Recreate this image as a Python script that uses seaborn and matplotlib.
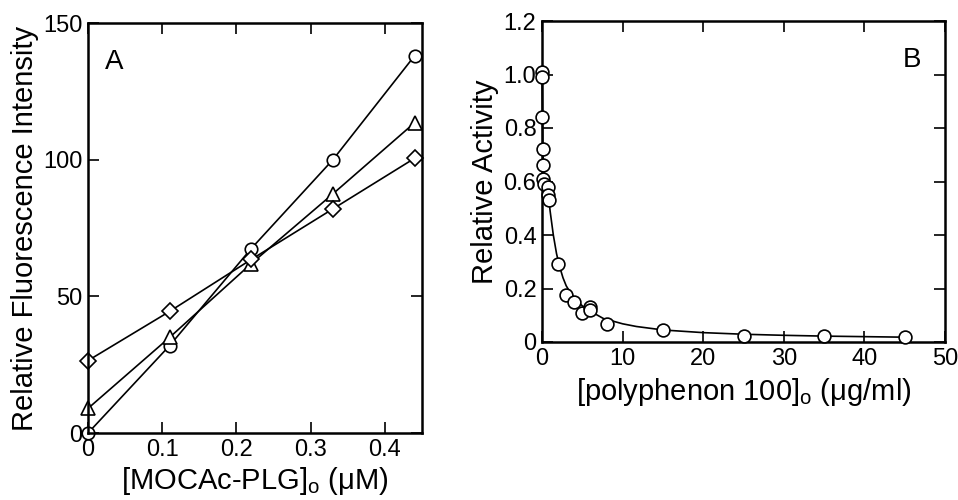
import matplotlib
matplotlib.use("Agg")
import matplotlib.pyplot as plt
import seaborn as sns

# -----------------------------
# Panel A data: fluorescence vs substrate
# -----------------------------
conc_a = [0, 0.11, 0.22, 0.33, 0.44]
circle_a = [0, 32, 67.5, 100, 138]
triangle_a = [9, 35, 62, 87.5, 113.5]
diamond_a = [26.5, 44.5, 63.5, 82, 100.5]

# -----------------------------
# Panel B data: relative activity vs polyphenon 100
# -----------------------------
dose_b = [0, 0, 0.05, 0.1, 0.1, 0.1, 0.2, 0.8, 0.8, 0.9, 2, 3, 4, 4.9, 6, 6, 8, 15, 25, 35, 45]
act_b = [1.01, 0.99, 0.84, 0.72, 0.66, 0.61, 0.59, 0.58, 0.55, 0.53, 0.29, 0.175, 0.15, 0.11,
         0.13, 0.12, 0.068, 0.043, 0.022, 0.022, 0.017]

# fitted curve
curve_x = [0, 0.05, 0.1, 0.2, 0.4, 0.8, 1.0, 1.4, 1.8, 2.2, 2.6, 3.0, 3.5, 4.0, 5.0, 6.0,
           7.6, 10, 11.7, 15, 20, 25, 30, 35, 40, 45]
curve_y = [1.0, 0.85, 0.72, 0.64, 0.60, 0.55, 0.49, 0.40, 0.33, 0.28, 0.24, 0.21, 0.185, 0.165,
           0.135, 0.115, 0.088, 0.068, 0.058, 0.045, 0.035, 0.029, 0.025, 0.022, 0.020, 0.018]

sns.set_style("ticks")
plt.rcParams['font.family'] = ['Liberation Sans', 'DejaVu Sans']
plt.rcParams['mathtext.fontset'] = 'custom'
plt.rcParams['mathtext.rm'] = 'Liberation Sans'
plt.rcParams['text.color'] = 'black'
plt.rcParams['axes.labelcolor'] = 'black'

fig = plt.figure(figsize=(9.58, 5.0), dpi=100)
ax_a = fig.add_axes([0.0919, 0.134, 0.3486, 0.82])
ax_b = fig.add_axes([0.5658, 0.316, 0.4207, 0.642])

mk = dict(color='black', markerfacecolor='white', markeredgecolor='black',
          markeredgewidth=1.2, linewidth=1.2, clip_on=False)

# -----------------------------
# Panel A
# -----------------------------
sns.lineplot(x=conc_a, y=circle_a, marker='o', markersize=9, ax=ax_a, **mk)
sns.lineplot(x=conc_a, y=triangle_a, marker='^', markersize=10, ax=ax_a, **mk)
sns.lineplot(x=conc_a, y=diamond_a, marker='D', markersize=8, ax=ax_a, **mk)

ax_a.set_xlim(0, 0.45)
ax_a.set_ylim(0, 150)
ax_a.set_xticks([0, 0.1, 0.2, 0.3, 0.4])
ax_a.set_xticklabels(['0', '0.1', '0.2', '0.3', '0.4'])
ax_a.set_yticks([0, 50, 100, 150])
ax_a.set_xlabel(r"[MOCAc-PLG]$_\mathregular{o}$ (μM)", fontsize=21, labelpad=3)
ax_a.set_ylabel("Relative Fluorescence Intensity", fontsize=21, labelpad=3)
ax_a.text(0.078, 0.905, "A", transform=ax_a.transAxes, fontsize=20, ha='center', va='center')

# -----------------------------
# Panel B
# -----------------------------
sns.lineplot(x=curve_x, y=curve_y, color='black', linewidth=1.2, ax=ax_b, clip_on=False)
sns.scatterplot(x=dose_b, y=act_b, s=85, facecolor='white', edgecolor='black',
                linewidth=1.2, ax=ax_b, clip_on=False, zorder=3)

ax_b.set_xlim(0, 50)
ax_b.set_ylim(0, 1.2)
ax_b.set_xticks([0, 10, 20, 30, 40, 50])
ax_b.set_yticks([0, 0.2, 0.4, 0.6, 0.8, 1.0, 1.2])
ax_b.set_yticklabels(['0', '0.2', '0.4', '0.6', '0.8', '1.0', '1.2'])
ax_b.set_xlabel(r"[polyphenon 100]$_\mathregular{o}$ (μg/ml)", fontsize=21, labelpad=5)
ax_b.set_ylabel("Relative Activity", fontsize=21, labelpad=3)
ax_b.text(0.918, 0.878, "B", transform=ax_b.transAxes, fontsize=20, ha='center', va='center')

for ax in (ax_a, ax_b):
    ax.tick_params(direction='in', length=8, width=1.2, top=True, right=True,
                   labelsize=17, pad=4, colors='black')
    for s in ax.spines.values():
        s.set_linewidth(1.8)
        s.set_color('black')

fig.savefig("out.png", dpi=100)
